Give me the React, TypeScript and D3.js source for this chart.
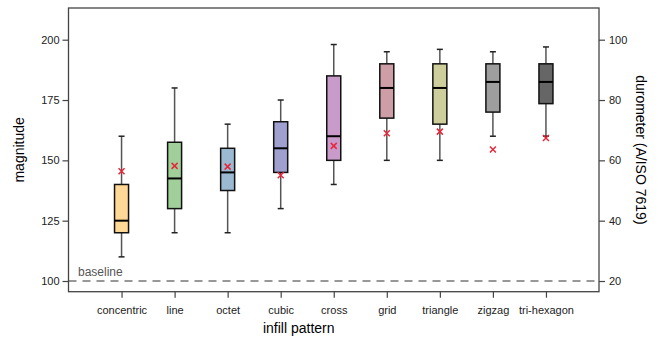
import React, { useEffect, useRef } from 'react';
import * as d3 from 'd3';

// infill patterns along the x axis
const categories = ['concentric', 'line', 'octet', 'cubic', 'cross', 'grid', 'triangle', 'zigzag', 'tri-hexagon'];

// box statistics per pattern (magnitude units)
const whiskerLow = [110, 120, 120, 130, 140, 150, 150, 160, 160];
const q1 = [120, 130, 137.5, 145, 150, 167.5, 165, 170, 173.5];
const median = [125, 142.5, 145, 155, 160, 180, 180, 182.5, 182.5];
const q3 = [140, 157.5, 155, 166, 185, 190, 190, 190, 190];
const whiskerHigh = [160, 180, 165, 175, 198, 195, 196, 195, 197];
const means = [145.5, 147.7, 147.4, 143.8, 156, 161.2, 161.9, 154.5, 159.3];

const boxColors = ['#ffd896', '#a0cf99', '#9bb9d1', '#9f9fd0', '#c89bca', '#cd9ea6', '#cece9c', '#9e9e9e', '#666666'];

const leftTicks = [100, 125, 150, 175, 200];
const rightTicks = [20, 40, 60, 80, 100];

const W = 658;
const H = 338;

const App = () => {
  const svgRef = useRef<SVGSVGElement | null>(null);

  useEffect(() => {
    if (!svgRef.current) return;
    const svg = d3.select(svgRef.current);
    svg.selectAll('*').remove();

    const left = 68.5;
    const right = 599;
    const top = 8;
    const bottom = 291.7;
    const font = '"Liberation Sans", Arial, sans-serif';

    // x: category index, with one empty slot on each side
    const x = d3.scaleLinear().domain([-1, categories.length]).range([left, right]);
    const y = d3.scaleLinear().domain([100, 200]).range([281, 39.7]);
    // durometer axis: 20..100 lines up with 100..200
    const y2 = d3.scaleLinear().domain([20, 100]).range([y(100), y(200)]);

    // baseline
    svg.append('line')
      .attr('x1', left).attr('x2', right)
      .attr('y1', y(100)).attr('y2', y(100))
      .attr('stroke', '#333').attr('stroke-width', 1.2)
      .attr('stroke-dasharray', '8,6');
    svg.append('text')
      .attr('x', 78).attr('y', y(100) - 5)
      .style('font-family', font).style('font-size', '12px')
      .attr('fill', '#555')
      .text('baseline');

    const bw = 14;
    const cap = 6;
    categories.forEach((c, i) => {
      const cx = x(i);
      const g = svg.append('g');
      // whiskers
      g.append('line').attr('x1', cx).attr('x2', cx)
        .attr('y1', y(whiskerHigh[i])).attr('y2', y(q3[i]))
        .attr('stroke', '#555').attr('stroke-width', 1.5);
      g.append('line').attr('x1', cx).attr('x2', cx)
        .attr('y1', y(q1[i])).attr('y2', y(whiskerLow[i]))
        .attr('stroke', '#555').attr('stroke-width', 1.5);
      [whiskerHigh[i], whiskerLow[i]].forEach(v => {
        g.append('line').attr('x1', cx - cap / 2).attr('x2', cx + cap / 2)
          .attr('y1', y(v)).attr('y2', y(v))
          .attr('stroke', '#222').attr('stroke-width', 1.5);
      });
      // box
      g.append('rect')
        .attr('x', cx - bw / 2).attr('width', bw)
        .attr('y', y(q3[i])).attr('height', y(q1[i]) - y(q3[i]))
        .attr('fill', boxColors[i])
        .attr('stroke', '#111').attr('stroke-width', 1.5);
      g.append('line').attr('x1', cx - bw / 2).attr('x2', cx + bw / 2)
        .attr('y1', y(median[i])).attr('y2', y(median[i]))
        .attr('stroke', '#000').attr('stroke-width', 2);
      // mean marker
      const m = 3;
      const my = y(means[i]);
      g.append('path')
        .attr('d', `M${cx - m},${my - m}L${cx + m},${my + m}M${cx - m},${my + m}L${cx + m},${my - m}`)
        .attr('stroke', '#e8283a').attr('stroke-width', 1.5).attr('fill', 'none');
    });

    // frame
    svg.append('rect')
      .attr('x', left).attr('y', top)
      .attr('width', right - left).attr('height', bottom - top)
      .attr('fill', 'none').attr('stroke', '#444').attr('stroke-width', 1.3);

    // left axis
    const la = svg.append('g')
      .attr('transform', `translate(${left},0)`)
      .call(d3.axisLeft(y).tickValues(leftTicks).tickSize(6).tickPadding(3));
    la.select('.domain').remove();
    la.selectAll('line').attr('stroke', '#444').attr('stroke-width', 1.2);
    la.selectAll('text').style('font-family', font).style('font-size', '11px').attr('fill', '#222');

    // right axis
    const ra = svg.append('g')
      .attr('transform', `translate(${right},0)`)
      .call(d3.axisRight(y2).tickValues(rightTicks).tickSize(6).tickPadding(4));
    ra.select('.domain').remove();
    ra.selectAll('line').attr('stroke', '#444').attr('stroke-width', 1.2);
    ra.selectAll('text').style('font-family', font).style('font-size', '11px').attr('fill', '#222');

    // bottom axis
    const ba = svg.append('g')
      .attr('transform', `translate(0,${bottom})`)
      .call(d3.axisBottom(x).tickValues(d3.range(categories.length))
        .tickFormat(d => categories[d as number]).tickSize(6).tickPadding(9));
    ba.select('.domain').remove();
    ba.selectAll('line').attr('stroke', '#444').attr('stroke-width', 1.2);
    ba.selectAll('text').style('font-family', font).style('font-size', '11px').attr('fill', '#222');

    // axis titles
    svg.append('text')
      .attr('x', (left + right) / 2 - 35).attr('y', 333)
      .attr('text-anchor', 'middle')
      .style('font-family', font).style('font-size', '14px')
      .text('infill pattern');
    svg.append('text')
      .attr('transform', `translate(24,${(top + bottom) / 2}) rotate(-90)`)
      .attr('text-anchor', 'middle')
      .style('font-family', font).style('font-size', '14px')
      .text('magnitude');
    svg.append('text')
      .attr('transform', `translate(636,${(top + bottom) / 2}) rotate(90)`)
      .attr('text-anchor', 'middle')
      .style('font-family', font).style('font-size', '14px')
      .text('durometer (A/ISO 7619)');
  }, []);

  return (
    <svg
      ref={svgRef}
      width={W}
      height={H}
      style={{ position: 'absolute', left: 0, top: 0, background: '#fff', display: 'block' }}
    />
  );
};

export default App;
